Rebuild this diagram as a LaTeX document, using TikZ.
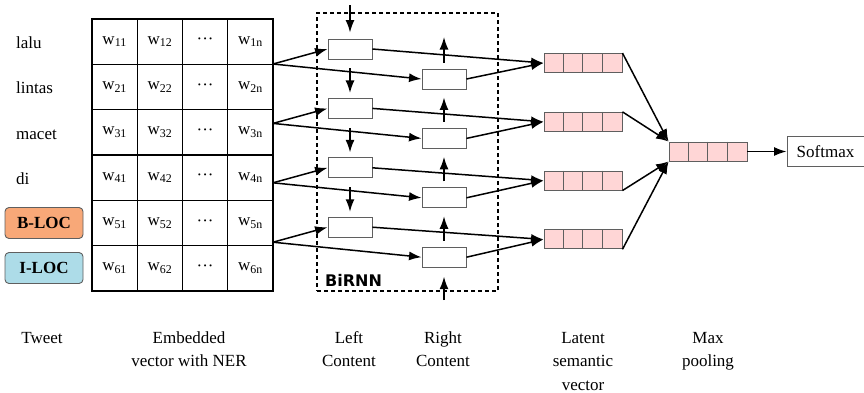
\documentclass[tikz,border=0pt]{standalone}
\usepackage{fontspec}
\setmainfont{Liberation Serif}
\newfontfamily\rnnfont{DejaVu Sans}
\usetikzlibrary{arrows.meta}
\definecolor{tagorange}{RGB}{248,168,120}
\definecolor{tagblue}{RGB}{173,220,232}
\definecolor{vecpink}{RGB}{255,214,214}
\definecolor{boxgray}{RGB}{95,95,95}

\begin{document}
\begin{tikzpicture}[x=1pt,y=-1pt,
		every node/.style={font=\fontsize{17}{23.5}\selectfont, inner sep=0pt},
		cell/.style={draw=black, line width=1.2pt, minimum width=45.25pt, minimum height=45.33pt},
		tag/.style={draw=boxgray, rounded corners=4pt, line width=0.9pt, minimum width=78pt, minimum height=31pt, font=\fontsize{17}{20}\selectfont\bfseries},
		rnn/.style={draw=boxgray, line width=0.9pt, minimum width=44pt, minimum height=20pt},
		vec/.style={draw=boxgray, fill=vecpink, line width=0.9pt, minimum width=78pt, minimum height=19pt},
		arr/.style={-{Latex[length=12.5pt,width=9pt]}, line width=1.5pt},
		caption/.style={align=center, anchor=base}]
		\useasboundingbox (0,0) rectangle (864,392);
		\node[anchor=base west] (lalu) at (16,48) {lalu};
		\node[anchor=base west] (lintas) at (16,93.5) {lintas};
		\node[anchor=base west] (macet) at (16,139) {macet};
		\node[anchor=base west] (di) at (16,184) {di};
		\node[tag, fill=tagorange] (bloc) at (44,223) {B-LOC};
		\node[tag, fill=tagblue] (iloc) at (44,268) {I-LOC};
		\foreach \r in {1,...,6}{
			\node[cell] (w\r-1) at (114.6,{45.33*\r-3.67}) {w\textsubscript{\r1}};
			\node[cell] (w\r-2) at (159.9,{45.33*\r-3.67}) {w\textsubscript{\r2}};
			\node[cell] (w\r-3) at (205.1,{45.33*\r-3.67}) {···};
			\node[cell] (w\r-4) at (250.4,{45.33*\r-3.67}) {w\textsubscript{\r n}};
		}
		\node[draw, dashed, dash pattern=on 4pt off 3pt, line width=1.4pt, minimum width=181pt, minimum height=278pt] (birnn) at (407.5,152) {};
		\node[anchor=base west, font=\rnnfont\bfseries\fontsize{16}{20}\selectfont] (birnnlbl) at (325,286) {BiRNN};
		\foreach \i in {1,...,4}{
			\coordinate (s\i) at (273,{64+59.4*(\i-1)});
			\node[rnn] (l\i) at (350,{49+59.4*(\i-1)}) {};
			\node[rnn] (r\i) at (444,{79+59.4*(\i-1)}) {};
			\node[vec] (t\i) at (583,{63+58.8*(\i-1)}) {};
			\foreach \k in {1,2,3}
				\draw[boxgray, line width=0.9pt] ([xshift=19.5*\k]t\i.north west) -- ([xshift=19.5*\k]t\i.south west);
			\draw[arr] (s\i) -- (l\i.west);
			\draw[arr] (s\i) -- (r\i.west);
			\draw[arr] (l\i.east) -- (t\i.west);
			\draw[arr] (r\i.east) -- (t\i.west);
		}
		\node[vec] (pool) at (708,151.5) {};
		\foreach \k in {1,2,3}
			\draw[boxgray, line width=0.9pt] ([xshift=19.5*\k]pool.north west) -- ([xshift=19.5*\k]pool.south west);
		\node[draw=boxgray, line width=0.9pt, minimum width=77pt, minimum height=30pt] (softmax) at (825.5,151.5) {Softmax};
		\coordinate (lin) at (350,5);
		\coordinate (rout) at (444,37);
		\coordinate (rin) at (444,300);
		\draw[arr, shorten >=6pt] (lin) -- (l1.north);
		\draw[arr, shorten <=9pt, shorten >=5pt] (l1.south) -- (l2.north);
		\draw[arr, shorten <=9pt, shorten >=5pt] (l2.south) -- (l3.north);
		\draw[arr, shorten <=9pt, shorten >=5pt] (l3.south) -- (l4.north);
		\draw[arr, shorten <=6pt] (r1.north) -- (rout);
		\draw[arr, shorten <=6pt, shorten >=8pt] (r2.north) -- (r1.south);
		\draw[arr, shorten <=6pt, shorten >=8pt] (r3.north) -- (r2.south);
		\draw[arr, shorten <=6pt, shorten >=8pt] (r4.north) -- (r3.south);
		\draw[arr, shorten >=9pt] (rin) -- (r4.south);
		\draw[arr] (t1.north east) -- (pool.north west);
		\draw[arr] (t2.north east) -- (pool.north west);
		\draw[arr] (t3.south east) -- (pool.south west);
		\draw[arr] (t4.south east) -- (pool.south west);
		\draw[arr] (pool.east) -- (softmax.west);
		\node[caption] (captweet) at (42,343) {Tweet};
		\node[caption] (capemb) at (189,366.5) {Embedded\\vector with NER};
		\node[caption] (capleft) at (349,366.5) {Left\\Content};
		\node[caption] (capright) at (443,366.5) {Right\\Content};
		\node[caption] (caplatent) at (583,390) {Latent\\semantic\\vector};
		\node[caption] (cappool) at (708,366.5) {Max\\pooling};
	\end{tikzpicture}
\end{document}
